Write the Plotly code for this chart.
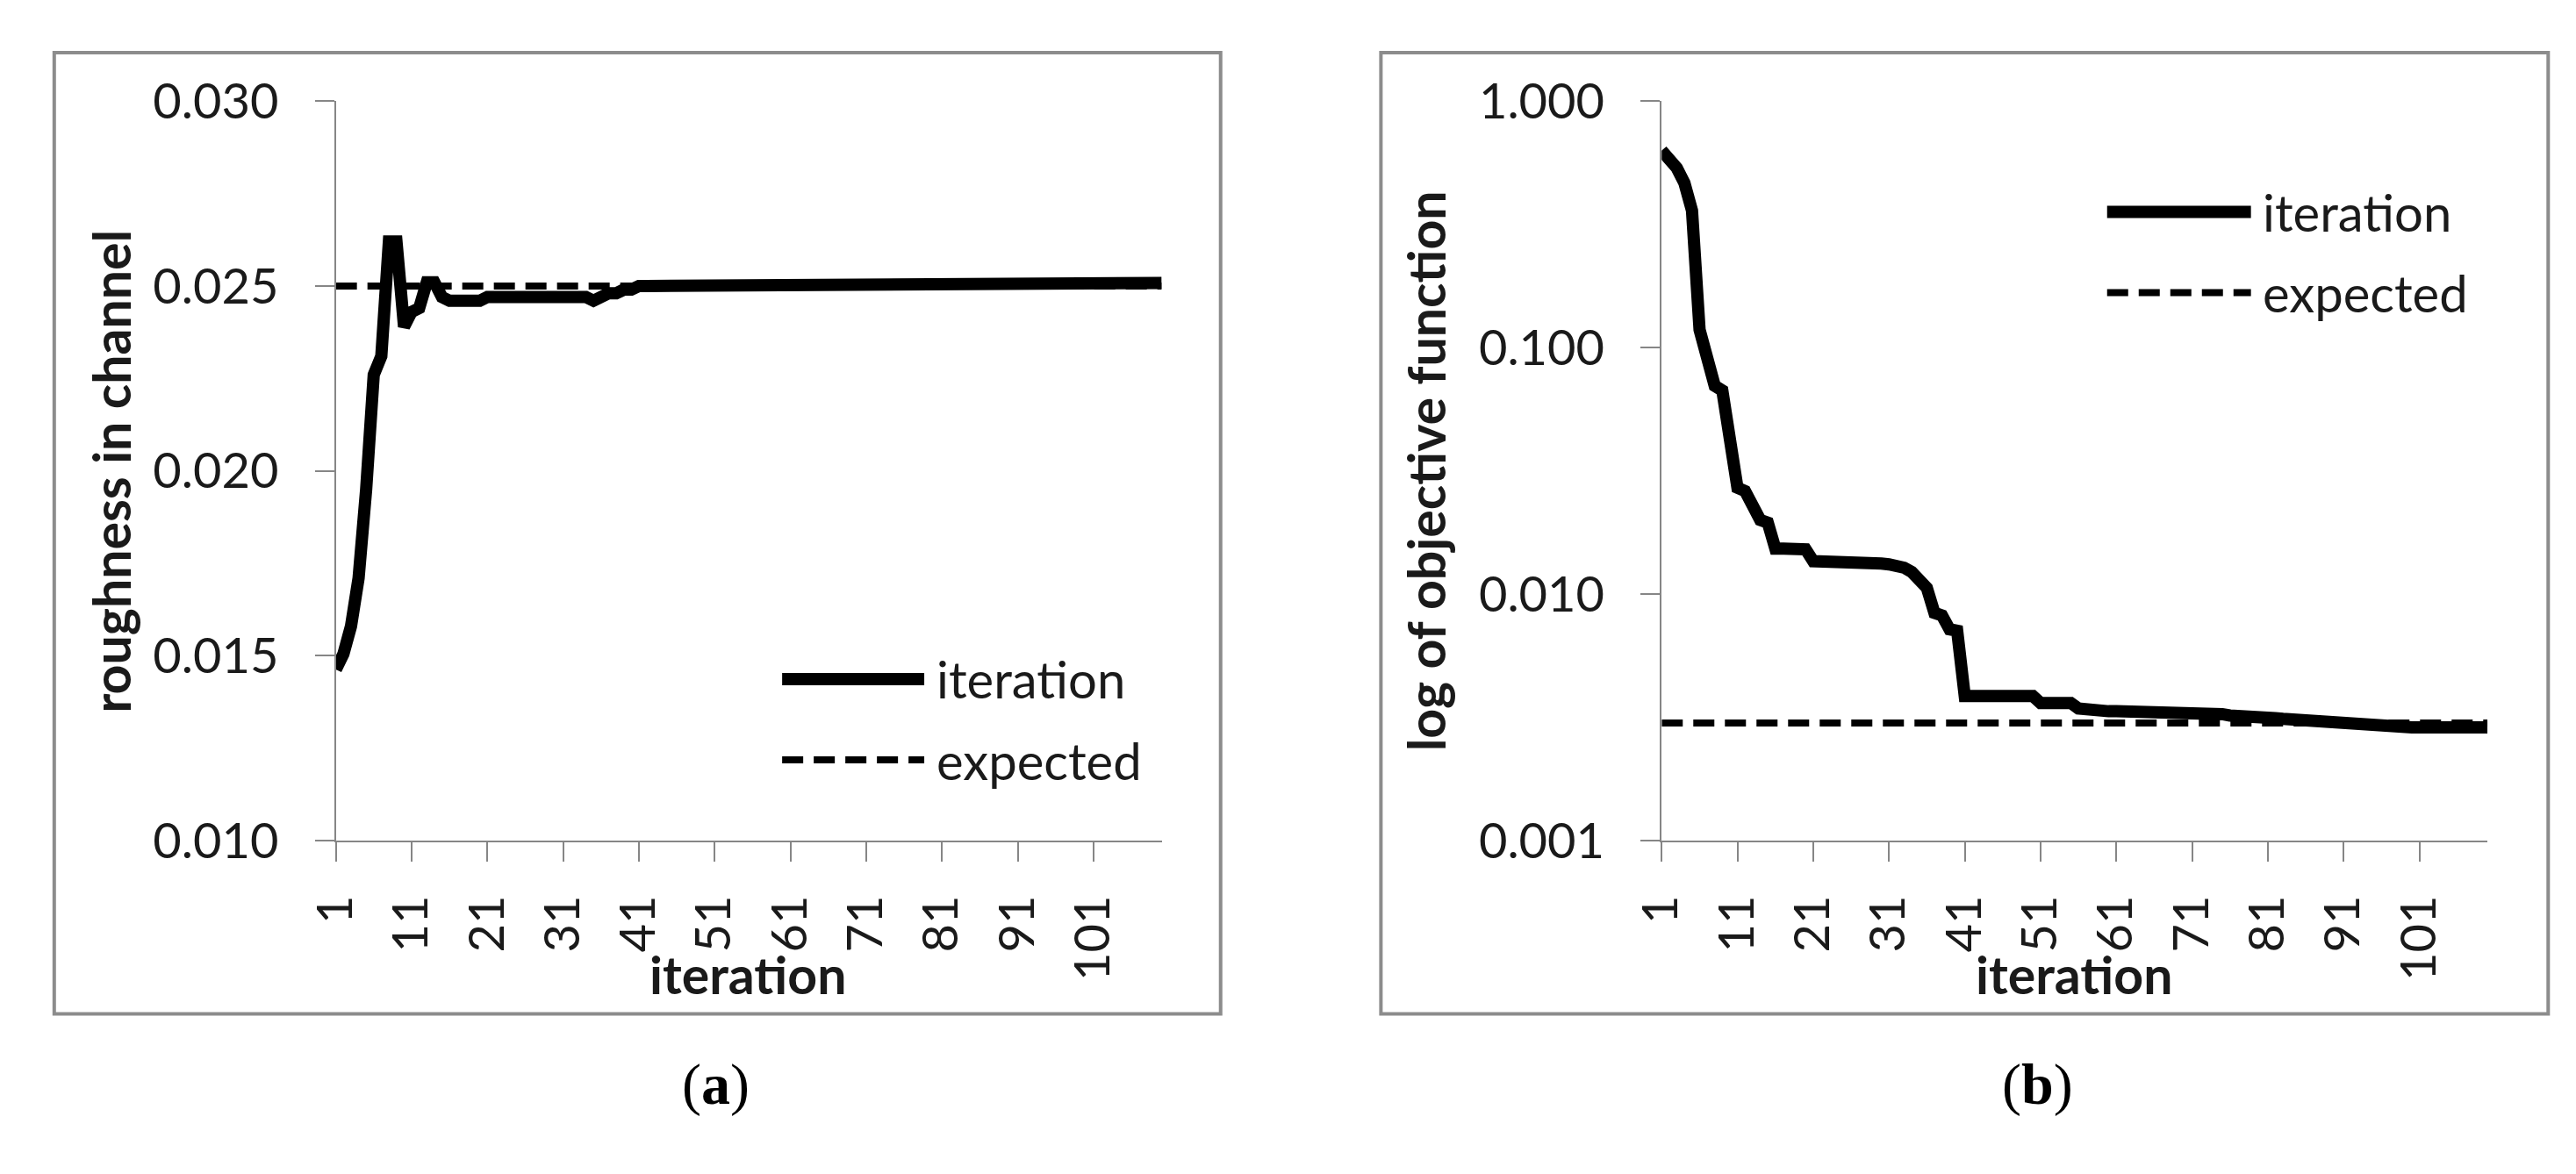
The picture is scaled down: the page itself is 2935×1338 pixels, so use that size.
# -*- coding: utf-8 -*-
"""
Calibration run: roughness in channel (a) and objective function (b) per iteration.
"""

import plotly.graph_objects as go
from plotly.subplots import make_subplots

# --- data ---
iterations = list(range(1, 111))

roughness = [
    0.01463, 0.01505, 0.01580, 0.01710, 0.01950, 0.02260, 0.02310, 0.02620, 0.02620, 0.02390,
    0.02430, 0.02440, 0.02510, 0.02510, 0.02470, 0.02460, 0.02460, 0.02460, 0.02460, 0.02460,
    0.02470, 0.02470, 0.02470, 0.02470, 0.02470, 0.02470, 0.02470, 0.02470, 0.02470, 0.02470,
    0.02470, 0.02470, 0.02470, 0.02470, 0.02460, 0.02470, 0.02480, 0.02480, 0.02490, 0.02490,
    0.02500, 0.02500, 0.02500, 0.02500, 0.02500, 0.02500, 0.02500, 0.02500, 0.02500, 0.02500,
    0.02500, 0.02500, 0.02500, 0.02508, 0.02508, 0.02508, 0.02508, 0.02508, 0.02508, 0.02508,
    0.02508, 0.02508, 0.02508, 0.02508, 0.02508, 0.02508, 0.02508, 0.02508, 0.02508, 0.02508,
    0.02508, 0.02508, 0.02508, 0.02508, 0.02508, 0.02508, 0.02508, 0.02508, 0.02508, 0.02508,
    0.02508, 0.02508, 0.02508, 0.02508, 0.02508, 0.02508, 0.02508, 0.02508, 0.02508, 0.02508,
    0.02508, 0.02508, 0.02508, 0.02508, 0.02508, 0.02508, 0.02508, 0.02508, 0.02508, 0.02508,
    0.02508, 0.02508, 0.02508, 0.02508, 0.02508, 0.02508, 0.02508, 0.02508, 0.02508, 0.02508,
]

objective = [
    0.630, 0.590, 0.535, 0.465, 0.360, 0.118, 0.088, 0.070, 0.067, 0.044,
    0.0270, 0.0262, 0.0232, 0.0200, 0.0195, 0.0153, 0.0153, 0.0153, 0.0153, 0.0152,
    0.0136, 0.0136, 0.0136, 0.0136, 0.0136, 0.0135, 0.0135, 0.0134, 0.0133, 0.0133,
    0.0132, 0.0131, 0.0128, 0.0123, 0.0114, 0.0106, 0.0084, 0.0082, 0.0072, 0.0071,
    0.00386, 0.00386, 0.00386, 0.00386, 0.00386, 0.00386, 0.00386, 0.00386, 0.00386, 0.00386,
    0.00362, 0.00362, 0.00362, 0.00362, 0.00362, 0.00344, 0.00340, 0.00338, 0.00336, 0.00335,
    0.00335, 0.00335, 0.00335, 0.00335, 0.00335, 0.00335, 0.00335, 0.00335, 0.00335, 0.00335,
    0.00335, 0.00335, 0.00330, 0.00328, 0.00326, 0.00322, 0.00322, 0.00320, 0.00316, 0.00316,
    0.00314, 0.00314, 0.00312, 0.00310, 0.00310, 0.00310, 0.00310, 0.00308, 0.00305, 0.00303,
    0.00302, 0.00298, 0.00296, 0.00295, 0.00292, 0.00290, 0.00289, 0.00288, 0.00288, 0.00288,
    0.00288, 0.00288, 0.00288, 0.00288, 0.00288, 0.00288, 0.00288, 0.00288, 0.00288, 0.00288,
]

expected_x = [1, 110]
expected_roughness = [0.025, 0.025]
expected_objective = [0.003, 0.003]

x_tickvals = [1, 11, 21, 31, 41, 51, 61, 71, 81, 91, 101]
y_tickvals_a = [0.010, 0.015, 0.020, 0.025, 0.030]
y_tickvals_b = [0.001, 0.010, 0.100, 1.000]
y_ticktext_b = ["0.001", "0.010", "0.100", "1.000"]

# page is 2935x1338; the browser's default 8px body margin is taken off
W, H = 2935, 1338
PAD = 8
FONT = "Lato"
AXIS_GREY = "#868686"
TEXT = "#1a1a1a"


def px(x):
    return (x - PAD) / (W - 2 * PAD)


def py(y):
    return 1 - (y - PAD) / (H - 2 * PAD)


fig = make_subplots(rows=1, cols=2)

solid = dict(color="black", width=14)
dashed = dict(color="black", width=8, dash="24px,12px")

fig.add_trace(go.Scatter(x=iterations, y=roughness, mode="lines", line=solid,
                         name="iteration", showlegend=False), row=1, col=1)
fig.add_trace(go.Scatter(x=expected_x, y=expected_roughness, mode="lines", line=dashed,
                         name="expected", showlegend=False), row=1, col=1)
fig.add_trace(go.Scatter(x=iterations, y=objective, mode="lines", line=solid,
                         name="iteration", showlegend=False), row=1, col=2)
fig.add_trace(go.Scatter(x=expected_x, y=expected_objective, mode="lines", line=dashed,
                         name="expected", showlegend=False), row=1, col=2)

axis_common = dict(
    showline=True, linecolor=AXIS_GREY, linewidth=2, showgrid=False, zeroline=False,
    ticks="outside", tickcolor=AXIS_GREY, tickwidth=2, ticklen=22,
    tickfont=dict(family=FONT, size=56, color=TEXT),
)

fig.update_xaxes(axis_common, range=[1, 110], tickvals=x_tickvals, tickangle=-90,
                 ticklabelstandoff=16)
fig.update_xaxes(domain=[px(350), px(1303)], row=1, col=1)
fig.update_xaxes(domain=[px(1880), px(2833)], row=1, col=2)

fig.update_yaxes(axis_common, domain=[py(972), py(84)], ticklabelstandoff=30)
fig.update_yaxes(range=[0.010, 0.030], tickvals=y_tickvals_a, tickformat=".3f", row=1, col=1)
fig.update_yaxes(type="log", range=[-3, 0], tickvals=y_tickvals_b, ticktext=y_ticktext_b,
                 row=1, col=2)

# panel frames
shapes = [
    dict(type="rect", xref="paper", yref="paper", x0=px(25), x1=px(1371), y0=py(1180), y1=py(26),
         line=dict(color="#8c8c8c", width=4), layer="below"),
    dict(type="rect", xref="paper", yref="paper", x0=px(1556), x1=px(2903), y0=py(1180), y1=py(26),
         line=dict(color="#8c8c8c", width=4), layer="below"),
]

annotations = []
title_font = dict(family=FONT, size=59, color=TEXT, weight="bold")
label_font = dict(family=FONT, size=58, color=TEXT)

# legends, axis titles and panel letters
panels = [
    dict(leg_x0=865, leg_x1=1029, leg_y=778, leg_dy=97, ytitle_x=91, xtitle_x=826,
         ytitle="roughness in channel", letter="a", letter_x=788),
    dict(leg_x0=2394, leg_x1=2560, leg_y=217, leg_dy=97, ytitle_x=1608, xtitle_x=2356,
         ytitle="log of objective function", letter="b", letter_x=2314),
]
for p in panels:
    shapes.append(dict(type="line", xref="paper", yref="paper",
                       x0=px(p["leg_x0"]), x1=px(p["leg_x1"]), y0=py(p["leg_y"]), y1=py(p["leg_y"]),
                       line=dict(color="black", width=14)))
    shapes.append(dict(type="line", xref="paper", yref="paper",
                       x0=px(p["leg_x0"]), x1=px(p["leg_x1"]),
                       y0=py(p["leg_y"] + p["leg_dy"]), y1=py(p["leg_y"] + p["leg_dy"]),
                       line=dict(color="black", width=8, dash="24px,12px")))
    annotations.append(dict(text="iteration", xref="paper", yref="paper", showarrow=False,
                            x=px(p["leg_x1"] + 12), y=py(p["leg_y"]), xanchor="left",
                            yanchor="middle", font=label_font))
    annotations.append(dict(text="expected", xref="paper", yref="paper", showarrow=False,
                            x=px(p["leg_x1"] + 12), y=py(p["leg_y"] + p["leg_dy"]),
                            xanchor="left", yanchor="middle", font=label_font))
    annotations.append(dict(text=p["ytitle"], xref="paper", yref="paper", showarrow=False,
                            x=px(p["ytitle_x"]), y=py(528), textangle=-90,
                            xanchor="center", yanchor="middle", font=title_font))
    annotations.append(dict(text="iteration", xref="paper", yref="paper", showarrow=False,
                            x=px(p["xtitle_x"]), y=py(1133), xanchor="center",
                            yanchor="middle", font=title_font))
    annotations.append(dict(text="(<b>%s</b>)" % p["letter"], xref="paper", yref="paper",
                            showarrow=False, x=px(p["letter_x"]), y=py(1265),
                            xanchor="center", yanchor="middle",
                            font=dict(family="Liberation Serif", size=66, color="black")))

fig.update_layout(
    width=W - 2 * PAD, height=H - 2 * PAD,
    margin=dict(l=0, r=0, t=0, b=0),
    paper_bgcolor="white", plot_bgcolor="white",
    showlegend=False,
    shapes=shapes,
    annotations=annotations,
)

fig.write_html("out.html")
